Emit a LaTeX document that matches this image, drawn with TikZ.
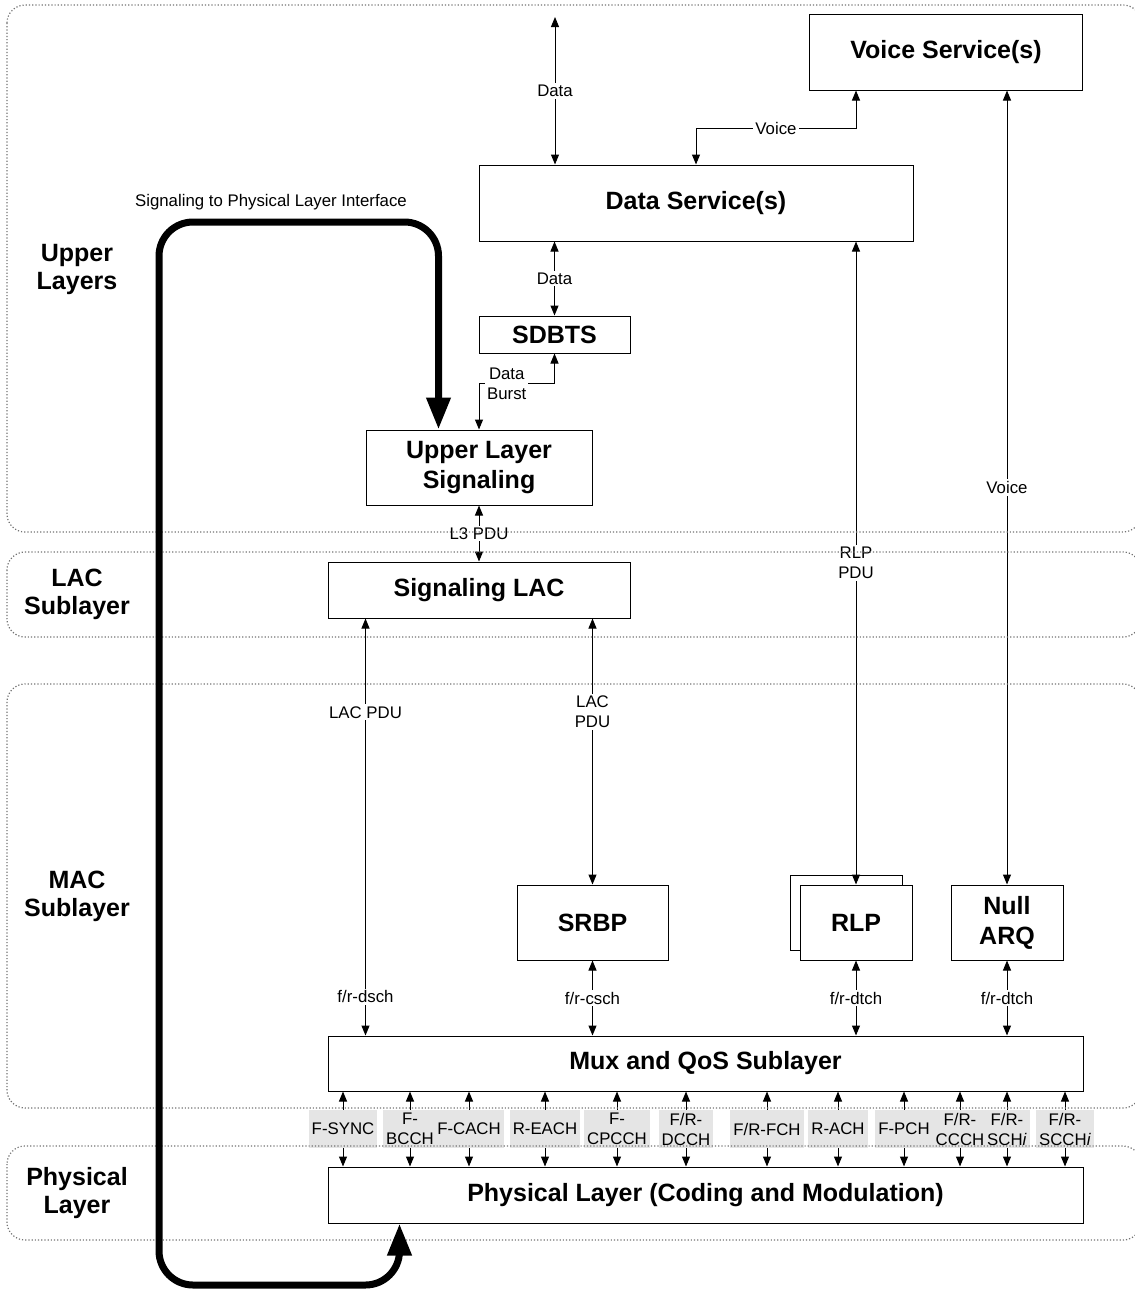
\documentclass[tikz,border=0pt]{standalone}
\usepackage{fontspec}
\setmainfont{Liberation Sans}
\setsansfont{Liberation Sans}
\tikzset{every picture/.style={/utils/exec={\sffamily}}}
\usetikzlibrary{calc}
\usetikzlibrary{positioning}
\usetikzlibrary{arrows.meta}

\tikzset{
  block/.style={draw, fill=white, line width=0.5pt, align=center, inner sep=0pt, font=\bfseries\fontsize{12.5}{15}\selectfont},
  lbl/.style={fill=white, inner sep=1pt, align=center, font=\fontsize{8.4}{10}\selectfont},
  chan/.style={fill=black!10, inner xsep=1.5pt, inner ysep=0pt, minimum height=19pt, align=center, font=\fontsize{8.4}{10}\selectfont},
  layer/.style={draw=black!55, densely dotted, line width=0.6pt, rounded corners=9pt},
  layername/.style={align=center, font=\bfseries\fontsize{12.5}{14}\selectfont},
  link/.style={line width=0.5pt, {Triangle[length=5pt,width=4pt]}-{Triangle[length=5pt,width=4pt]}},
  sigloop/.style={line width=3.5pt, rounded corners=17pt, {Triangle[length=16pt,width=11.5pt]}-{Triangle[length=16pt,width=11.5pt]}},
}

\begin{document}
\begin{tikzpicture}[x=0.5pt, y=-0.5pt]
  \useasboundingbox (0,0) rectangle (1135,1291);

  % upper layers
  \node [block, minimum width=136.5pt, minimum height=38pt] (voice) at (946,52) {Voice Service(s)};
  \node [block, minimum width=217pt, minimum height=38pt] (data) at (696,203) {Data Service(s)};
  \node [block, minimum width=75.5pt, minimum height=18.5pt] (sdbts) at (554.5,334.5) {SDBTS};
  \node [block, minimum width=113pt, minimum height=37.5pt] (uls) at (479,467.5) {Upper Layer\\Signaling};

  % LAC
  \node [block, minimum width=151pt, minimum height=28pt] (siglac) at (479,590) {Signaling LAC};

  % MAC
  \node [block, minimum width=75.5pt, minimum height=37.5pt] (srbp) at (592.5,922.5) {SRBP};
  \node [block, minimum width=56pt, minimum height=37.5pt] (rlpback) at (846,912.5) {};
  \node [block, minimum width=56pt, minimum height=37.5pt] (rlp) at (856,922.5) {RLP};
  \node [block, minimum width=56pt, minimum height=37.5pt] (nullarq) at (1007,922.5) {Null\\ARQ};
  \node [block, minimum width=377.5pt, minimum height=27.5pt] (mux) at (705.5,1063.5) {Mux and QoS Sublayer};

  % physical
  \node [block, minimum width=377.5pt, minimum height=28pt] (phys) at (705.5,1195) {Physical Layer (Coding and Modulation)};

  % data and voice paths
  \coordinate (dataout) at (555,17);
  \draw [link] (dataout) -- (dataout |- data.north) node [lbl, midway] {Data};
  \draw [link] (data.north) -- ++(0,-36) -| ([xshift=-45pt]voice.south) node [lbl, pos=0.25] {Voice};
  \draw [link] (sdbts.north |- data.south) -- (sdbts.north) node [lbl, midway] {Data};
  \draw [link] (sdbts.south) -- ++(0,30) -| (uls.north) node [lbl, pos=0.25, xshift=-5pt] {Data\\Burst};
  \draw [link] (uls.south) -- (siglac.north) node [lbl, midway] {L3 PDU};
  \draw [link] (rlp.north |- data.south) -- (rlp.north) node [lbl, midway] {RLP\\PDU};
  \draw [link] (nullarq.north |- voice.south) -- (nullarq.north) node [lbl, midway] {Voice};

  % LAC to MAC
  \draw [link] ([xshift=19pt]siglac.south west) -- ([xshift=19pt]mux.north west)
    node [lbl, pos=0.225] {LAC PDU} node [lbl, pos=0.907] {f/r-dsch};
  \draw [link] (srbp.north |- siglac.south) -- (srbp.north) node [lbl, pos=0.35] {LAC\\PDU};
  \draw [link] (srbp.south) -- (srbp.south |- mux.north) node [lbl, midway] {f/r-csch};
  \draw [link] (rlp.south) -- (rlp.south |- mux.north) node [lbl, midway] {f/r-dtch};
  \draw [link] (nullarq.south) -- (nullarq.south |- mux.north) node [lbl, midway] {f/r-dtch};

  % channels
  \foreach \x/\t in {343/F-SYNC, 410/{F-\\BCCH}, 469/F-CACH, 545/R-EACH, 617/{F-\\CPCCH},
      686/{F/R-\\DCCH}, 767/{F/R-FCH}, 838/R-ACH, 904/F-PCH, 960/{F/R-\\CCCH},
      1007/{F/R-\\SCH\textit{i}}, 1065/{F/R-\\SCCH\textit{i}}}
    \draw [link] (mux.south -| \x,0) -- (phys.north -| \x,0) node [chan, midway] {\t};

  % layers
  \draw [layer] (7,5) rectangle (1141,532);
  \draw [layer] (7,552) rectangle (1141,637);
  \draw [layer] (7,684) rectangle (1141,1108);
  \draw [layer] (7,1146) rectangle (1141,1240);

  \node [layername] (upname) at (77,269) {Upper\\Layers};
  \node [layername] (lacname) at (77,594) {LAC\\Sublayer};
  \node [layername] (macname) at (77,896) {MAC\\Sublayer};
  \node [layername] (physname) at (77,1193) {Physical\\Layer};

  % signaling loop
  \coordinate (looptop) at (159,222);
  \coordinate (loopbottom) at (159,1285);
  \draw [sigloop] ([xshift=36.5pt]uls.north west) |- (looptop) -- (loopbottom) -| ([xshift=36pt]phys.south west);
  \node [lbl, fill=none] (sigtext) at (271,202) {Signaling to Physical Layer Interface};

\end{tikzpicture}
\end{document}
